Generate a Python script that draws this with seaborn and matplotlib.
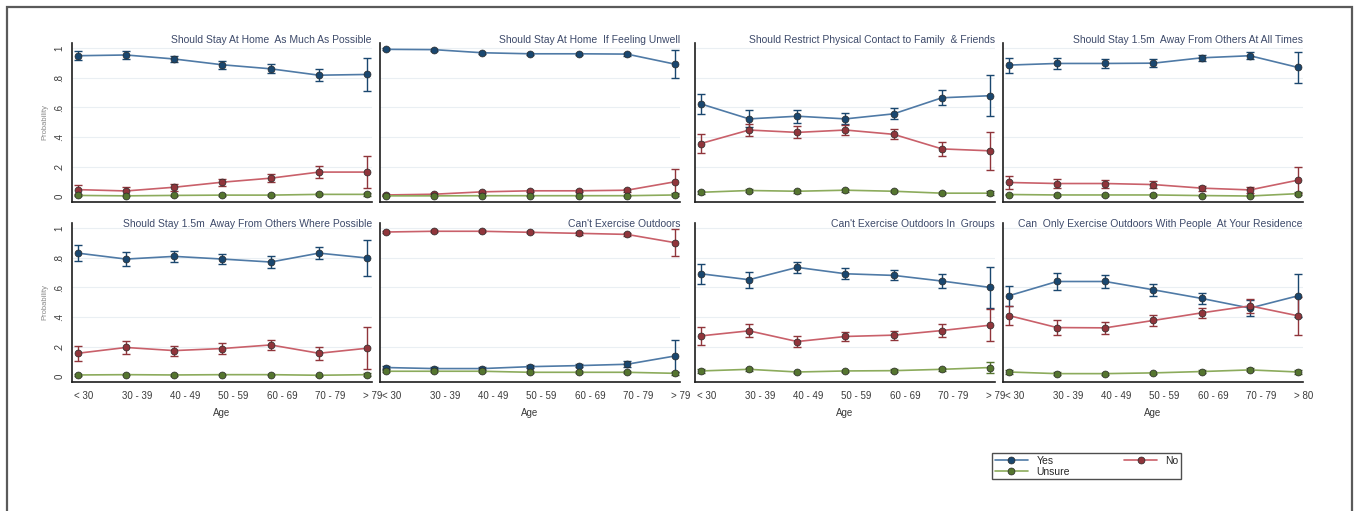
import matplotlib
matplotlib.use("Agg")
import matplotlib.pyplot as plt
import matplotlib.transforms as mtransforms
from matplotlib.patches import Rectangle
from matplotlib.lines import Line2D
import seaborn as sns
import pandas as pd

sns.set_style("white")
plt.rcParams['font.family'] = ['Liberation Sans', 'DejaVu Sans']

ages = ["< 30", "30 - 39", "40 - 49", "50 - 59", "60 - 69", "70 - 79", "> 79"]
ages_last = ["< 30", "30 - 39", "40 - 49", "50 - 59", "60 - 69", "70 - 79", "> 80"]

titles = [
    "Should Stay At Home  As Much As Possible",
    "Should Stay At Home  If Feeling Unwell",
    "Should Restrict Physical Contact to Family  & Friends",
    "Should Stay 1.5m  Away From Others At All Times",
    "Should Stay 1.5m  Away From Others Where Possible",
    "Can't Exercise Outdoors",
    "Can't Exercise Outdoors In  Groups",
    "Can  Only Exercise Outdoors With People  At Your Residence",
]

# predicted probability per panel, 7 age groups each
yes_prob = [
    [0.948, 0.953, 0.926, 0.887, 0.860, 0.817, 0.822],
    [0.991, 0.989, 0.968, 0.961, 0.961, 0.959, 0.891],
    [0.624, 0.523, 0.541, 0.523, 0.557, 0.665, 0.679],
    [0.885, 0.896, 0.896, 0.898, 0.934, 0.948, 0.869],
    [0.831, 0.791, 0.809, 0.791, 0.771, 0.831, 0.798],
    [0.061, 0.054, 0.054, 0.067, 0.074, 0.083, 0.139],
    [0.692, 0.652, 0.735, 0.692, 0.681, 0.643, 0.600],
    [0.544, 0.640, 0.640, 0.584, 0.526, 0.461, 0.544],
]
yes_err = [
    [0.030, 0.028, 0.022, 0.028, 0.030, 0.040, 0.110],
    [0.006, 0.006, 0.008, 0.008, 0.008, 0.010, 0.093],
    [0.068, 0.057, 0.043, 0.037, 0.037, 0.049, 0.137],
    [0.050, 0.038, 0.032, 0.025, 0.022, 0.022, 0.102],
    [0.056, 0.048, 0.038, 0.034, 0.038, 0.038, 0.118],
    [0.012, 0.008, 0.008, 0.010, 0.010, 0.020, 0.105],
    [0.067, 0.054, 0.035, 0.037, 0.034, 0.047, 0.137],
    [0.068, 0.055, 0.045, 0.039, 0.038, 0.053, 0.144],
]
no_prob = [
    [0.047, 0.038, 0.063, 0.097, 0.124, 0.165, 0.165],
    [0.011, 0.016, 0.032, 0.039, 0.039, 0.043, 0.100],
    [0.357, 0.448, 0.432, 0.448, 0.419, 0.321, 0.308],
    [0.095, 0.088, 0.088, 0.081, 0.057, 0.045, 0.111],
    [0.157, 0.196, 0.175, 0.189, 0.213, 0.157, 0.191],
    [0.973, 0.978, 0.978, 0.971, 0.964, 0.957, 0.901],
    [0.274, 0.308, 0.236, 0.270, 0.279, 0.310, 0.346],
    [0.411, 0.330, 0.328, 0.378, 0.429, 0.476, 0.409],
]
no_err = [
    [0.028, 0.025, 0.023, 0.023, 0.026, 0.040, 0.108],
    [0.006, 0.007, 0.008, 0.008, 0.008, 0.010, 0.083],
    [0.062, 0.043, 0.040, 0.036, 0.033, 0.045, 0.129],
    [0.045, 0.028, 0.027, 0.024, 0.017, 0.019, 0.088],
    [0.052, 0.043, 0.034, 0.038, 0.031, 0.043, 0.142],
    [0.008, 0.006, 0.006, 0.008, 0.008, 0.010, 0.090],
    [0.058, 0.044, 0.034, 0.031, 0.031, 0.042, 0.109],
    [0.062, 0.048, 0.039, 0.039, 0.036, 0.046, 0.129],
]
unsure_prob = [
    [0.008, 0.005, 0.008, 0.010, 0.010, 0.015, 0.015],
    [0.005, 0.005, 0.006, 0.006, 0.006, 0.006, 0.011],
    [0.029, 0.041, 0.036, 0.043, 0.036, 0.023, 0.023],
    [0.014, 0.011, 0.011, 0.011, 0.007, 0.004, 0.020],
    [0.011, 0.013, 0.011, 0.013, 0.013, 0.009, 0.013],
    [0.036, 0.036, 0.036, 0.029, 0.029, 0.029, 0.022],
    [0.038, 0.049, 0.031, 0.038, 0.040, 0.049, 0.061],
    [0.031, 0.020, 0.020, 0.025, 0.034, 0.045, 0.031],
]
unsure_err = [
    [0.005, 0.004, 0.004, 0.005, 0.005, 0.006, 0.012],
    [0.003, 0.003, 0.004, 0.004, 0.004, 0.004, 0.010],
    [0.010, 0.010, 0.009, 0.009, 0.008, 0.008, 0.012],
    [0.006, 0.005, 0.005, 0.005, 0.004, 0.003, 0.012],
    [0.005, 0.005, 0.005, 0.005, 0.005, 0.005, 0.010],
    [0.008, 0.006, 0.006, 0.006, 0.006, 0.006, 0.012],
    [0.012, 0.011, 0.008, 0.008, 0.008, 0.010, 0.034],
    [0.012, 0.008, 0.007, 0.007, 0.008, 0.010, 0.015],
]

series = [
    ("Yes", yes_prob, yes_err, "#1a476f", "#4f7aa6"),
    ("No", no_prob, no_err, "#90353b", "#c9606a"),
    ("Unsure", unsure_prob, unsure_err, "#55752f", "#8cab5c"),
]

W, H = 1360, 511
fig = plt.figure(figsize=(W / 100, H / 100), dpi=100)

col_left = [72, 380, 695, 1003]
ax_w = 300
row_top = [42.8, 222.8]
ax_h = 159

# outer frame (bottom edge runs off the canvas)
fig.patches.append(Rectangle((7 / W, -0.05), (1352 - 7) / W, 1 - 7 / H + 0.05,
                             transform=fig.transFigure, fill=False,
                             edgecolor="#5a5a5a", lw=1.6))

shift_left = mtransforms.ScaledTranslation(-0.04, 0, fig.dpi_scale_trans)

for i in range(8):
    r, c = divmod(i, 4)
    ax = fig.add_axes([col_left[c] / W, 1 - (row_top[r] + ax_h) / H, ax_w / W, ax_h / H])
    x = list(range(7))
    for name, prob, err, mcol, lcol in series:
        df = pd.DataFrame({"age": x, "p": prob[i]})
        ax.errorbar(df["age"], df["p"], yerr=err[i], fmt="none", ecolor=mcol,
                    elinewidth=1, capsize=2.8, capthick=1, zorder=2)
        sns.lineplot(data=df, x="age", y="p", ax=ax, color=lcol, lw=1.2,
                     marker="o", markersize=5, markerfacecolor=mcol,
                     markeredgecolor="#2a2a2a", markeredgewidth=0.5, zorder=3)
    ax.set_xlim(-0.12, 6.1)
    ax.set_ylim(-0.035, 1.035)
    ax.set_yticks([0, 0.2, 0.4, 0.6, 0.8, 1.0])
    ax.set_xticks(x)
    for yv in [0.2, 0.4, 0.6, 0.8, 1.0]:
        ax.axhline(yv, color="#eaeff3", lw=0.8, zorder=0)
    for s in ["top", "right"]:
        ax.spines[s].set_visible(False)
    for s in ["left", "bottom"]:
        ax.spines[s].set_color("#1e1e1e")
        ax.spines[s].set_linewidth(1.2)
    ax.tick_params(direction="out", length=3.5, width=1, color="#1e1e1e",
                   labelsize=7, labelcolor="#3a3a3a", pad=2)
    ax.tick_params(axis="x", pad=3)
    if c == 0:
        ax.set_yticklabels(["0", ".2", ".4", ".6", ".8", "1"], rotation=90, va="center")
        ax.set_ylabel("Probability", fontsize=5.5, color="#8a8a8a", labelpad=4)
    else:
        ax.set_yticklabels([])
        ax.set_ylabel("")
    if r == 1:
        ax.set_xticklabels(ages_last if i == 7 else ages, ha="left")
        for tick in ax.xaxis.get_major_ticks():
            tick.label1.set_transform(tick.label1.get_transform() + shift_left)
        ax.set_xlabel("Age", fontsize=7, color="#3a3a3a", labelpad=5)
    else:
        ax.set_xticklabels([])
        ax.set_xlabel("")
    ax.text(1.0, 1.015 if r == 0 else 0.995, titles[i], transform=ax.transAxes,
            ha="right", va="center", fontsize=7.5, color="#3d4a6a")
    if ax.get_legend():
        ax.get_legend().remove()

handles = [Line2D([0], [0], color=lcol, lw=1.2, marker="o", markersize=5,
                  markerfacecolor=mcol, markeredgecolor="#2a2a2a", markeredgewidth=0.5)
           for _, _, _, mcol, lcol in series]
leg = fig.legend([handles[0], handles[2], handles[1]], ["Yes", "Unsure", "No"],
                 ncol=2, loc="upper left", bbox_to_anchor=(992 / W, 1 - 453 / H),
                 fontsize=7.5, frameon=True, fancybox=False, handlelength=3.2,
                 borderpad=0.25, labelspacing=0.1, columnspacing=5.2,
                 handletextpad=0.8, borderaxespad=0)
leg.get_frame().set_edgecolor("#222222")
leg.get_frame().set_linewidth(1)

fig.savefig("out.png", dpi=100)
